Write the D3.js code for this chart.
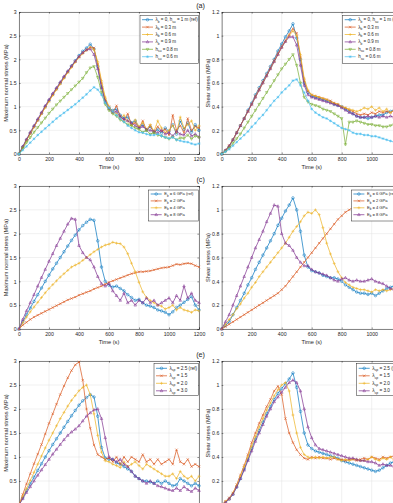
<!DOCTYPE html>
<html><head><meta charset="utf-8">
<script src="https://cdn.jsdelivr.net/npm/d3@7/dist/d3.min.js"></script>
<style>body{margin:0;background:#fff;overflow:hidden}svg{display:block}text{font-family:"Liberation Sans",Arial,Helvetica,sans-serif;fill:#262626}</style>
</head><body><svg id="chart" width="393" height="503"></svg>
<script>
// ---------- data ----------
const times = [0,25,50,75,100,125,150,175,200,225,250,275,300,325,350,375,400,425,450,475,500,525,550,575,600,625,650,675,700,725,750,775,800,825,850,875,900,925,950,975,1000,1025,1050,1075,1100,1125,1150,1175,1200];
const timeTicks = [0,200,400,600,800,1000,1200];
const normalTicks = [0,0.5,1,1.5,2,2.5,3];
const shearTicks = [0,0.2,0.4,0.6,0.8,1,1.2];
const panelLabels = ["(a)","(c)","(e)"];

const labelsA = ["λ_{b} = 0, h_{su} = 1 m (ref)","λ_{b} = 0.3 m","λ_{b} = 0.6 m","λ_{b} = 0.9 m","h_{su} = 0.8 m","h_{su} = 0.6 m"];
const labelsC = ["E_{b} = 6 GPa (ref)","E_{b} = 2 GPa","E_{b} = 4 GPa","E_{b} = 8 GPa"];
const labelsE = ["λ_{sp} = 2.5 (ref)","λ_{sp} = 1.5","λ_{sp} = 2.0","λ_{sp} = 3.0"];

// (a) maximum normal stress
const aN_ref = [0,0.15,0.3,0.44,0.58,0.72,0.86,1.0,1.13,1.26,1.38,1.5,1.62,1.74,1.86,1.97,2.08,2.17,2.24,2.32,2.22,1.85,1.42,1.12,0.98,0.92,0.95,0.82,0.76,0.78,0.66,0.7,0.56,0.62,0.5,0.58,0.46,0.52,0.44,0.55,0.48,0.62,0.42,0.7,0.52,0.66,0.46,0.62,0.5];
const aN_l03 = [0,0.14,0.29,0.43,0.57,0.71,0.85,0.99,1.12,1.25,1.37,1.49,1.61,1.73,1.84,1.95,2.05,2.14,2.2,2.26,2.24,1.9,1.5,1.15,1.0,0.88,1.02,0.8,0.72,0.85,0.62,0.66,0.55,0.7,0.5,0.6,0.45,0.58,0.48,0.52,0.4,0.82,0.5,0.6,0.45,0.75,0.5,0.58,0.55];
const aN_l06 = [0,0.14,0.29,0.43,0.57,0.71,0.85,0.98,1.11,1.24,1.36,1.48,1.6,1.72,1.83,1.94,2.04,2.12,2.19,2.25,2.2,1.95,1.55,1.2,1.0,0.9,0.85,0.75,0.82,0.7,0.6,0.72,0.58,0.66,0.52,0.62,0.48,0.7,0.55,0.45,0.5,0.6,0.45,0.78,0.55,0.62,0.7,0.5,0.6];
const aN_l09 = [0,0.16,0.31,0.46,0.6,0.74,0.88,1.02,1.15,1.28,1.4,1.52,1.64,1.75,1.86,1.96,2.06,2.14,2.2,2.22,2.1,1.8,1.4,1.1,0.95,0.88,0.9,0.78,0.74,0.7,0.65,0.6,0.55,0.58,0.52,0.5,0.48,0.45,0.5,0.42,0.45,0.38,0.48,0.42,0.4,0.5,0.38,0.42,0.36];
const aN_h08 = [0,0.12,0.24,0.35,0.46,0.56,0.66,0.76,0.86,0.95,1.04,1.12,1.2,1.28,1.36,1.44,1.52,1.6,1.72,1.82,1.85,1.62,1.3,1.05,0.92,0.85,0.8,0.72,0.68,0.62,0.6,0.55,0.52,0.46,0.5,0.42,0.45,0.4,0.38,0.35,0.32,0.36,0.3,0.34,0.33,0.4,0.32,0.38,0.35];
const aN_h06 = [0,0.08,0.16,0.24,0.32,0.4,0.47,0.54,0.61,0.68,0.75,0.81,0.87,0.93,0.99,1.05,1.12,1.19,1.26,1.34,1.41,1.36,1.25,1.08,0.98,0.9,0.82,0.75,0.68,0.6,0.55,0.5,0.46,0.45,0.42,0.4,0.4,0.42,0.38,0.35,0.33,0.35,0.3,0.28,0.26,0.25,0.22,0.2,0.22];
// (a) shear stress
const aS_ref = [0,0.03,0.06,0.12,0.18,0.24,0.3,0.37,0.43,0.5,0.56,0.62,0.68,0.74,0.8,0.87,0.93,0.99,1.04,1.1,0.98,0.8,0.6,0.52,0.49,0.48,0.47,0.46,0.45,0.44,0.42,0.41,0.4,0.38,0.36,0.34,0.32,0.31,0.31,0.3,0.31,0.32,0.33,0.33,0.35,0.36,0.37,0.36,0.36];
const aS_l03 = [0,0.03,0.07,0.12,0.18,0.24,0.3,0.36,0.42,0.49,0.55,0.61,0.67,0.73,0.79,0.85,0.91,0.96,1.01,1.06,1.02,0.82,0.62,0.53,0.5,0.49,0.48,0.47,0.46,0.45,0.43,0.42,0.4,0.39,0.37,0.36,0.34,0.33,0.34,0.33,0.35,0.34,0.36,0.35,0.36,0.35,0.37,0.36,0.37];
const aS_l06 = [0,0.03,0.07,0.12,0.18,0.24,0.3,0.36,0.42,0.48,0.54,0.6,0.66,0.72,0.78,0.84,0.9,0.95,1.0,1.04,1.0,0.84,0.64,0.54,0.5,0.49,0.48,0.47,0.46,0.44,0.43,0.42,0.4,0.39,0.38,0.37,0.36,0.37,0.39,0.38,0.4,0.37,0.39,0.36,0.38,0.35,0.37,0.36,0.37];
const aS_l09 = [0,0.03,0.07,0.12,0.18,0.24,0.3,0.36,0.42,0.48,0.54,0.6,0.66,0.72,0.78,0.84,0.9,0.95,0.99,0.99,0.92,0.75,0.58,0.5,0.48,0.47,0.46,0.45,0.44,0.43,0.42,0.41,0.39,0.37,0.35,0.34,0.32,0.31,0.31,0.32,0.31,0.32,0.31,0.32,0.31,0.32,0.31,0.31,0.31];
const aS_h08 = [0,0.02,0.05,0.09,0.13,0.17,0.22,0.27,0.32,0.37,0.42,0.47,0.52,0.57,0.62,0.67,0.72,0.76,0.8,0.84,0.75,0.6,0.48,0.44,0.42,0.41,0.4,0.38,0.37,0.36,0.34,0.32,0.3,0.08,0.27,0.27,0.28,0.27,0.26,0.25,0.25,0.24,0.24,0.23,0.23,0.24,0.25,0.25,0.25];
const aS_h06 = [0,0.02,0.04,0.07,0.1,0.13,0.16,0.19,0.23,0.26,0.3,0.33,0.37,0.41,0.45,0.48,0.52,0.55,0.58,0.62,0.63,0.58,0.52,0.45,0.38,0.35,0.33,0.31,0.3,0.28,0.26,0.24,0.22,0.21,0.2,0.18,0.17,0.17,0.16,0.16,0.15,0.15,0.14,0.13,0.12,0.11,0.1,0.09,0.08];
// (c) maximum normal stress
const cN_ref = [0,0.15,0.3,0.44,0.58,0.72,0.86,1.0,1.13,1.26,1.38,1.5,1.62,1.74,1.86,1.97,2.08,2.17,2.24,2.3,2.28,1.85,1.3,1.0,0.92,0.88,0.9,0.85,0.8,0.72,0.66,0.6,0.62,0.55,0.5,0.48,0.45,0.4,0.38,0.35,0.3,0.36,0.45,0.5,0.56,0.62,0.68,0.5,0.4];
const cN_e2 = [0,0.08,0.14,0.2,0.25,0.29,0.33,0.37,0.41,0.45,0.49,0.53,0.57,0.61,0.64,0.67,0.71,0.74,0.77,0.8,0.84,0.87,0.9,0.94,0.98,1.01,1.04,1.07,1.1,1.13,1.16,1.18,1.2,1.2,1.21,1.22,1.24,1.26,1.28,1.29,1.3,1.33,1.36,1.35,1.37,1.38,1.37,1.33,1.3];
const cN_e4 = [0,0.13,0.25,0.36,0.46,0.56,0.66,0.76,0.85,0.93,1.01,1.09,1.16,1.23,1.3,1.34,1.38,1.44,1.5,1.56,1.62,1.67,1.72,1.76,1.78,1.82,1.8,1.79,1.72,1.58,1.38,1.2,0.98,0.78,0.66,0.6,0.55,0.5,0.48,0.42,0.45,0.5,0.4,0.45,0.4,0.38,0.35,0.4,0.38];
const cN_e8 = [0,0.2,0.38,0.55,0.72,0.9,1.08,1.25,1.42,1.58,1.75,1.9,2.05,2.2,2.32,2.3,1.75,1.6,1.5,1.45,1.3,1.1,0.95,0.9,0.95,0.8,0.7,0.6,0.75,0.55,0.6,0.5,0.6,0.55,0.65,0.55,0.6,0.5,0.55,0.6,0.65,0.55,0.7,0.6,0.9,0.65,0.75,0.6,0.55];
// (c) shear stress
const cS_ref = [0,0.03,0.06,0.12,0.18,0.24,0.3,0.37,0.43,0.5,0.56,0.62,0.68,0.74,0.8,0.87,0.93,0.99,1.04,1.1,1.0,0.82,0.62,0.52,0.49,0.48,0.47,0.45,0.44,0.43,0.43,0.42,0.4,0.37,0.35,0.33,0.31,0.3,0.3,0.29,0.3,0.28,0.3,0.32,0.34,0.35,0.36,0.36,0.36];
const cS_e2 = [0,0.02,0.04,0.06,0.08,0.1,0.12,0.14,0.16,0.18,0.2,0.22,0.24,0.26,0.28,0.3,0.33,0.36,0.4,0.44,0.48,0.52,0.56,0.6,0.64,0.68,0.72,0.76,0.8,0.84,0.88,0.92,0.95,0.98,1.0,1.02,1.02,1.02,1.03,1.03,1.03,1.03,1.03,1.03,1.03,1.03,1.03,1.03,1.03];
const cS_e4 = [0,0.04,0.08,0.12,0.17,0.21,0.26,0.3,0.35,0.39,0.44,0.48,0.52,0.56,0.6,0.64,0.68,0.72,0.77,0.82,0.86,0.9,0.95,0.98,0.97,1.0,0.96,0.85,0.72,0.63,0.55,0.48,0.43,0.39,0.37,0.35,0.34,0.33,0.33,0.32,0.31,0.33,0.32,0.33,0.32,0.33,0.34,0.35,0.35];
const cS_e8 = [0,0.06,0.12,0.2,0.28,0.36,0.44,0.52,0.6,0.68,0.75,0.82,0.9,0.97,1.04,1.03,0.8,0.72,0.7,0.66,0.6,0.56,0.53,0.53,0.5,0.48,0.47,0.46,0.45,0.43,0.41,0.4,0.42,0.43,0.41,0.4,0.41,0.4,0.4,0.41,0.42,0.4,0.39,0.38,0.36,0.34,0.33,0.33,0.33];
// (e) maximum normal stress
const eN_ref = [0,0.15,0.3,0.44,0.58,0.72,0.86,1.0,1.13,1.26,1.38,1.5,1.62,1.74,1.86,1.97,2.08,2.17,2.24,2.3,2.25,1.85,1.2,0.98,0.95,0.95,0.88,0.85,0.8,0.75,0.7,0.6,0.55,0.5,0.5,0.48,0.45,0.5,0.45,0.5,0.45,0.4,0.42,0.55,0.5,0.45,0.4,0.45,0.4];
const eN_s15 = [0,0.22,0.44,0.65,0.86,1.06,1.26,1.48,1.7,1.9,2.1,2.3,2.48,2.65,2.8,2.92,2.98,2.6,2.0,1.6,1.25,1.05,1.0,0.95,0.98,0.9,1.0,0.85,1.0,0.9,1.0,0.95,0.9,1.05,0.9,0.95,0.85,0.95,0.85,0.9,0.95,0.85,1.15,0.9,0.85,0.95,0.8,0.85,0.8];
const eN_s20 = [0,0.17,0.34,0.51,0.68,0.85,1.02,1.19,1.35,1.5,1.65,1.8,1.93,2.06,2.18,2.28,2.38,2.45,2.5,2.3,1.9,1.45,1.1,0.92,0.9,0.85,0.82,0.78,0.9,0.8,0.85,0.9,0.82,0.75,0.85,0.8,0.75,0.7,0.65,0.6,0.6,0.65,0.55,0.7,0.6,0.55,0.6,0.5,0.6];
const eN_s30 = [0,0.13,0.26,0.38,0.5,0.62,0.73,0.84,0.95,1.06,1.16,1.26,1.36,1.45,1.52,1.58,1.65,1.75,1.85,1.92,1.98,2.0,1.8,1.4,1.0,0.95,0.9,0.95,0.85,0.8,0.7,0.6,0.55,0.5,0.45,0.5,0.45,0.4,0.38,0.35,0.32,0.3,0.35,0.3,0.38,0.32,0.28,0.35,0.3];
// (e) shear stress
const eS_ref = [0,0.02,0.05,0.09,0.15,0.22,0.3,0.38,0.47,0.55,0.62,0.69,0.76,0.82,0.88,0.93,0.97,1.01,1.05,1.1,0.98,0.78,0.6,0.5,0.47,0.45,0.44,0.43,0.42,0.41,0.4,0.39,0.37,0.36,0.35,0.34,0.33,0.32,0.31,0.3,0.29,0.28,0.29,0.31,0.33,0.35,0.36,0.36,0.37];
const eS_s15 = [0,0.03,0.06,0.1,0.17,0.25,0.33,0.42,0.52,0.6,0.68,0.75,0.82,0.88,0.95,0.99,0.92,0.72,0.6,0.52,0.46,0.42,0.39,0.38,0.4,0.39,0.4,0.39,0.39,0.38,0.39,0.38,0.38,0.37,0.38,0.38,0.37,0.38,0.39,0.38,0.4,0.39,0.38,0.4,0.39,0.4,0.41,0.42,0.42];
const eS_s20 = [0,0.03,0.05,0.1,0.16,0.24,0.32,0.4,0.49,0.57,0.65,0.72,0.79,0.85,0.91,0.96,1.0,1.02,0.95,0.75,0.6,0.48,0.42,0.4,0.39,0.4,0.39,0.4,0.39,0.4,0.4,0.38,0.37,0.38,0.37,0.38,0.38,0.37,0.37,0.38,0.4,0.38,0.37,0.39,0.38,0.4,0.37,0.38,0.38];
const eS_s30 = [0,0.02,0.05,0.09,0.15,0.22,0.29,0.37,0.45,0.53,0.6,0.67,0.74,0.8,0.86,0.9,0.94,0.98,1.02,1.04,1.02,0.95,0.8,0.65,0.56,0.5,0.47,0.46,0.45,0.44,0.43,0.42,0.41,0.4,0.39,0.39,0.38,0.37,0.37,0.36,0.36,0.35,0.33,0.34,0.33,0.33,0.32,0.32,0.31];

const colors = ["#0072BD","#D95319","#EDB120","#7E2F8E","#77AC30","#4DBEEE"];
const markerTypes = ["o","x","+","^","v","*"];

// ---------- layout ----------
const colX = [19, 221.7];
const plotW = 180;
const rowTop = [12, 186, 361];
const rowH = [142, 143, 144];
const legendCfg = [
  {dx:121, y:15.5, h:48, y0:19.7, step:7.4, fs:4.5},
  {dx:129.7, y:190, h:31, y0:194, step:6.9, fs:4.1},
  {dx:135, y:363.5, h:32, y0:368.3, step:7.5, fs:4.7}
];
const panels = [
  {row:0,col:0,kind:"N",series:[aN_ref,aN_l03,aN_l06,aN_l09,aN_h08,aN_h06],labels:labelsA},
  {row:0,col:1,kind:"S",series:[aS_ref,aS_l03,aS_l06,aS_l09,aS_h08,aS_h06],labels:labelsA},
  {row:1,col:0,kind:"N",series:[cN_ref,cN_e2,cN_e4,cN_e8],labels:labelsC},
  {row:1,col:1,kind:"S",series:[cS_ref,cS_e2,cS_e4,cS_e8],labels:labelsC},
  {row:2,col:0,kind:"N",series:[eN_ref,eN_s15,eN_s20,eN_s30],labels:labelsE},
  {row:2,col:1,kind:"S",series:[eS_ref,eS_s15,eS_s20,eS_s30],labels:labelsE}
];

const svg = d3.select("#chart");
const axisCol = "#262626";

function drawMarker(g, type, x, y, color){
  const s = 1.25;
  if(type==="o"){
    g.append("circle").attr("cx",x).attr("cy",y).attr("r",1.3).attr("fill","none").attr("stroke",color).attr("stroke-width",0.5);
    return;
  }
  let d;
  if(type==="x") d=`M${x-s},${y-s}L${x+s},${y+s}M${x-s},${y+s}L${x+s},${y-s}`;
  else if(type==="+") d=`M${x-1.5},${y}H${x+1.5}M${x},${y-1.5}V${y+1.5}`;
  else if(type==="^") d=`M${x},${y-1.5}L${x+1.3},${y+0.9}L${x-1.3},${y+0.9}Z`;
  else if(type==="v") d=`M${x},${y+1.5}L${x+1.3},${y-0.9}L${x-1.3},${y-0.9}Z`;
  else d=`M${x-1.4},${y}H${x+1.4}M${x},${y-1.4}V${y+1.4}M${x-1},${y-1}L${x+1},${y+1}M${x-1},${y+1}L${x+1},${y-1}`;
  g.append("path").attr("d",d).attr("fill","none").attr("stroke",color).attr("stroke-width",0.5);
}

function richText(sel, label, fs){
  const parts = label.split(/(_\{[^}]*\})/).filter(p=>p.length);
  let shifted = false;
  parts.forEach(p=>{
    if(p.startsWith("_{")){
      sel.append("tspan").attr("dy",fs*0.3).attr("font-size",fs*0.72).text(p.slice(2,-1));
      shifted = true;
    } else {
      const t = sel.append("tspan").text(p);
      if(shifted){ t.attr("dy",-fs*0.3); shifted=false; }
    }
  });
}

panels.forEach(p=>{
  const x0 = colX[p.col], top = rowTop[p.row], h = rowH[p.row];
  const x = d3.scaleLinear().domain([0,1200]).range([x0, x0+plotW]);
  const yTicks = p.kind==="N" ? normalTicks : shearTicks;
  const y = d3.scaleLinear().domain([0, p.kind==="N"?3:1.2]).range([top+h, top]);
  const g = svg.append("g");

  // grid
  g.append("g").selectAll("line.v").data(timeTicks).join("line")
    .attr("x1",d=>x(d)).attr("x2",d=>x(d)).attr("y1",top).attr("y2",top+h)
    .attr("stroke","#e3e3e3").attr("stroke-width",0.5);
  g.append("g").selectAll("line.h").data(yTicks).join("line")
    .attr("x1",x0).attr("x2",x0+plotW).attr("y1",d=>y(d)).attr("y2",d=>y(d))
    .attr("stroke","#e3e3e3").attr("stroke-width",0.5);

  // axes via d3 axis generators (inward ticks)
  const fmt = d=>String(d);
  const xb = d3.axisBottom(x).tickValues(timeTicks).tickSize(-1.6).tickPadding(3.2).tickFormat(fmt);
  const xt = d3.axisTop(x).tickValues(timeTicks).tickSize(-1.6).tickFormat("");
  const yl = d3.axisLeft(y).tickValues(yTicks).tickSize(-1.6).tickPadding(2.4).tickFormat(fmt);
  const yr = d3.axisRight(y).tickValues(yTicks).tickSize(-1.6).tickFormat("");
  const axes = [
    g.append("g").attr("transform",`translate(0,${top+h})`).call(xb),
    g.append("g").attr("transform",`translate(0,${top})`).call(xt),
    g.append("g").attr("transform",`translate(${x0},0)`).call(yl),
    g.append("g").attr("transform",`translate(${x0+plotW},0)`).call(yr)
  ];
  axes.forEach(a=>{
    a.selectAll("path.domain").attr("stroke",axisCol).attr("stroke-width",0.55);
    a.selectAll(".tick line").attr("stroke",axisCol).attr("stroke-width",0.5);
    a.selectAll(".tick text").attr("font-size",5.2).attr("fill",axisCol).attr("font-family","Liberation Sans, Arial, sans-serif");
  });

  // axis titles
  g.append("text").attr("x",x0+plotW/2).attr("y",top+h+14.6).attr("text-anchor","middle")
    .attr("font-size",5.7).text("Time (s)");
  const yLabelX = p.col===0 ? 8 : 210.3;
  g.append("text").attr("transform",`translate(${yLabelX},${top+h/2}) rotate(-90)`).attr("text-anchor","middle")
    .attr("font-size",5.7).text(p.kind==="N" ? "Maximum normal stress (MPa)" : "Shear stress (MPa)");

  // series
  const line = d3.line().x((d,i)=>x(times[i])).y(d=>y(d));
  p.series.forEach((vals,si)=>{
    const col = colors[si];
    g.append("path").datum(vals).attr("d",line).attr("fill","none").attr("stroke",col).attr("stroke-width",0.7);
    const mg = g.append("g");
    vals.forEach((v,i)=>drawMarker(mg, markerTypes[si], x(times[i]), y(v), col));
  });

  // legend
  const L = legendCfg[p.row];
  const lx = x0 + L.dx;
  const lw = x0 + plotW - 0.6 - lx;
  const lg = g.append("g");
  lg.append("rect").attr("x",lx).attr("y",L.y).attr("width",lw).attr("height",L.h)
    .attr("fill","#fff").attr("stroke",axisCol).attr("stroke-width",0.5);
  p.labels.forEach((lab,i)=>{
    const yy = L.y0 + i*L.step;
    lg.append("line").attr("x1",lx+2).attr("x2",lx+13).attr("y1",yy).attr("y2",yy)
      .attr("stroke",colors[i]).attr("stroke-width",0.7);
    drawMarker(lg, markerTypes[i], lx+7.5, yy, colors[i]);
    const t = lg.append("text").attr("x",lx+15.5).attr("y",yy+L.fs*0.35).attr("font-size",L.fs).attr("fill","#000");
    richText(t, lab, L.fs);
  });
});

// panel labels
const labelY = [7.6, 182, 357.4];
panelLabels.forEach((t,i)=>{
  svg.append("text").attr("x",200.6).attr("y",labelY[i]).attr("text-anchor","middle")
    .attr("font-size",7.2).attr("font-family","DejaVu Serif, Liberation Serif, serif").attr("fill","#000").text(t);
});
</script></body></html>
